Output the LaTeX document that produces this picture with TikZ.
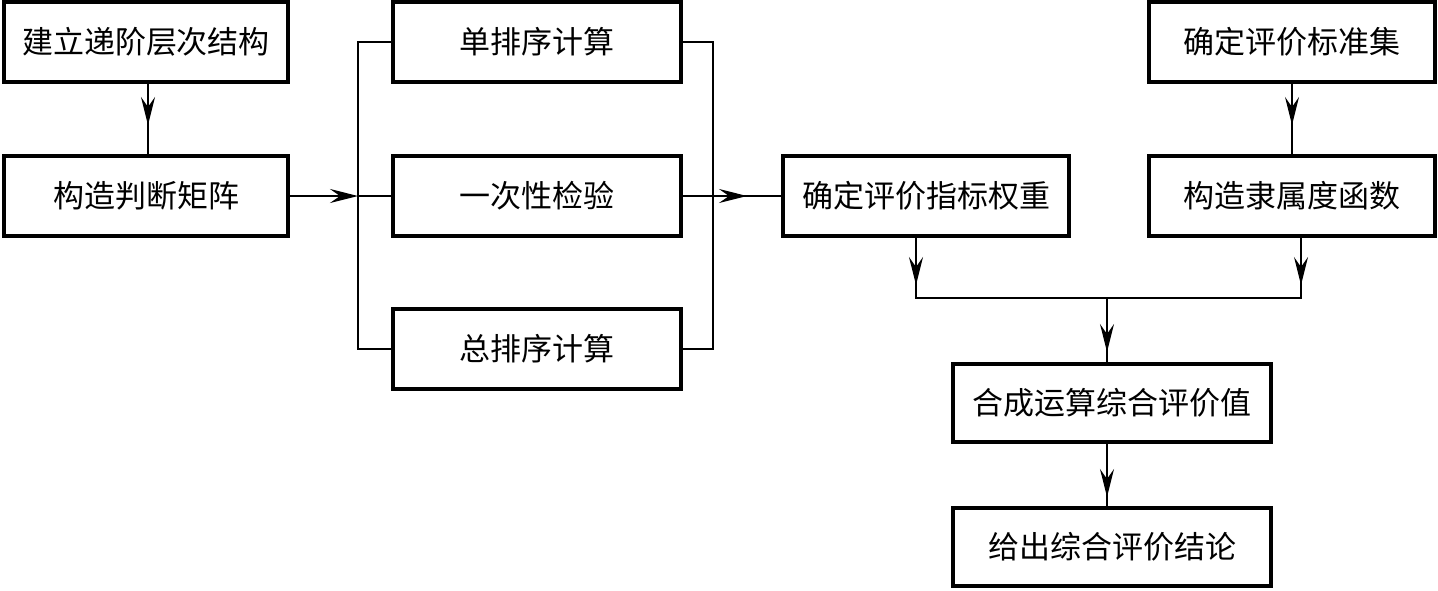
\documentclass[tikz,border=0pt]{standalone}
\usepackage{fontspec}
\newfontfamily\cjk{Noto Sans CJK SC}
\usetikzlibrary{arrows.meta,decorations.markings,calc}
\begin{document}
\begin{tikzpicture}[x=1pt,y=-1pt,
  box/.style={draw, line width=4pt, minimum width=#1, minimum height=80pt, inner sep=0pt,
    font=\cjk\fontsize{31}{32}\selectfont},
  conn/.style={line width=1.3pt},
  tipend/.style={-{Stealth[length=28pt,width=14pt,inset=10pt]}},
  midtip/.style={postaction={decorate}, decoration={markings,
    mark=at position #1 with {\arrow{Stealth[length=28pt,width=14pt,inset=10pt]}}}}
]
\useasboundingbox (0,0) rectangle (1438,590);
\node[box=284pt] (b1) at (146,42) {建立递阶层次结构};
\node[box=284pt] (b2) at (146,196) {构造判断矩阵};
\node[box=288pt] (b3) at (537,42) {单排序计算};
\node[box=288pt] (b4) at (537,196) {一次性检验};
\node[box=288pt] (b5) at (537,349) {总排序计算};
\node[box=286pt] (b6) at (926,196) {确定评价指标权重};
\node[box=286pt] (b7) at (1292,42) {确定评价标准集};
\node[box=286pt] (b8) at (1292,196) {构造隶属度函数};
\node[box=318pt, minimum height=78pt] (b9) at (1112,403) {合成运算综合评价值};
\node[box=318pt, minimum height=78pt] (b10) at (1112,547) {给出综合评价结论};
\coordinate (L) at (358,196);
\coordinate (R) at (713,196);
\coordinate (M) at (1107,298);
\draw[conn, midtip=41pt] ([xshift=2pt]b1.south) -- ([xshift=2pt]b1.south |- b2.north);
\draw[conn, tipend] (b2.east) -- (L);
\draw[conn] (b3.west) -| (L) |- (b5.west);
\draw[conn] (L) -- (b4.west);
\draw[conn] (b3.east) -| (R) |- (b5.east);
\draw[conn, midtip=64pt] (b4.east) -- (b6.west);
\draw[conn, midtip=41pt] (b7.south) -- (b8.north);
\draw[conn, midtip=47pt] ([xshift=-10pt]b6.south) -- ([xshift=-10pt]b6.south |- M) -- (M);
\draw[conn, midtip=47pt] ([xshift=9pt]b8.south) -- ([xshift=9pt]b8.south |- M) -- (M);
\draw[conn, midtip=54pt] (M) -- (M |- b9.north);
\draw[conn, midtip=53pt] ([xshift=-5pt]b9.south) -- ([xshift=-5pt]b9.south |- b10.north);
\end{tikzpicture}
\end{document}
